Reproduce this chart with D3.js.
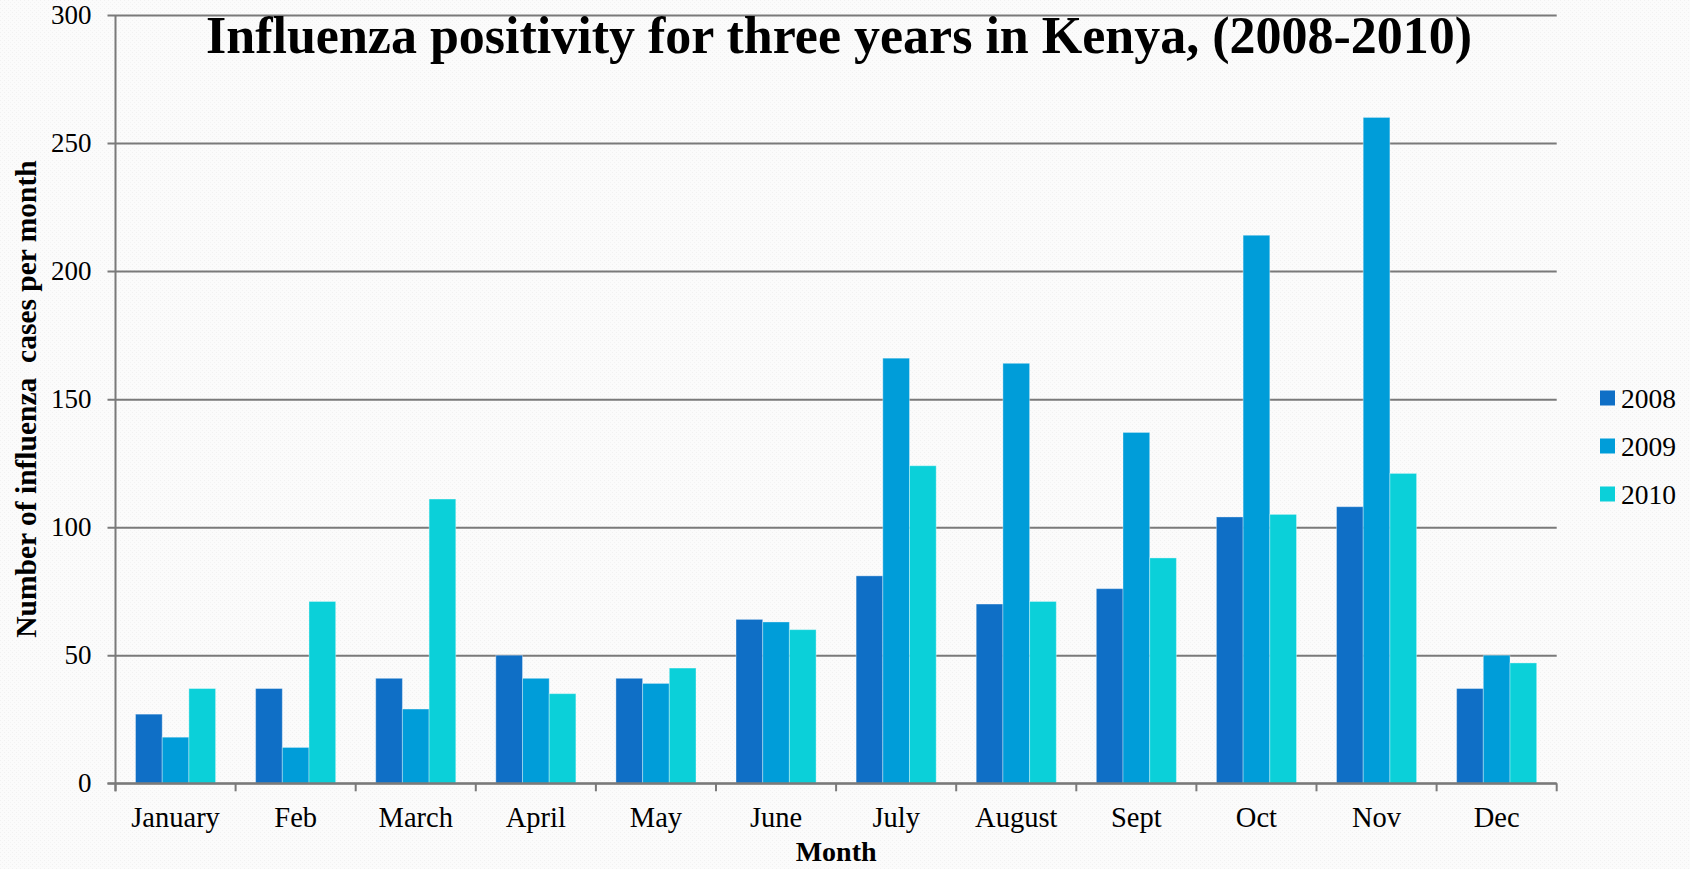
<!DOCTYPE html>
<html>
<head>
<meta charset="utf-8">
<script src="https://cdn.jsdelivr.net/npm/d3@7"></script>
<style>
  html, body { margin: 0; padding: 0; background: #fafafa; }
  svg { display: block; }
</style>
</head>
<body>
<svg id="chart" width="1690" height="869"></svg>
<script>
const months = ["January","Feb","March","April","May","June","July","August","Sept","Oct","Nov","Dec"];
const seriesNames = ["2008","2009","2010"];
const values2008 = [27, 37, 41, 50, 41, 64, 81, 70, 76, 104, 108, 37];
const values2009 = [18, 14, 29, 41, 39, 63, 166, 164, 137, 214, 260, 50];
const values2010 = [37, 71, 111, 35, 45, 60, 124, 71, 88, 105, 121, 47];
const yTicks = [0, 50, 100, 150, 200, 250, 300];
const colors = ["#0F6FC6", "#009DD9", "#0BD0D9"];
const titleText = "Influenza positivity for three years in Kenya, (2008-2010)";
const yLabel = "Number of influenza  cases per month";
const xLabel = "Month";

(function () {
const seriesValues = [values2008, values2009, values2010];
const data = months.map((m, i) => ({
  month: m,
  vals: seriesNames.map((s, j) => ({ key: s, value: seriesValues[j][i] }))
}));

const svg = d3.select("#chart");
const W = 1690, H = 869;
const pLeft = 115.5, pRight = 1556.7, pTop = 15, pBottom = 783.3;
const FONT = "'Liberation Serif', 'Times New Roman', serif";

// textured background
const defs = svg.append("defs");
const pat = defs.append("pattern").attr("id", "tex").attr("width", 4).attr("height", 4)
  .attr("patternUnits", "userSpaceOnUse");
pat.append("rect").attr("width", 4).attr("height", 4).attr("fill", "#fbfbfb");
pat.append("rect").attr("x", 0).attr("y", 0).attr("width", 1).attr("height", 1).attr("fill", "#f1f1f1");
pat.append("rect").attr("x", 2).attr("y", 2).attr("width", 1).attr("height", 1).attr("fill", "#f3f3f3");
svg.append("rect").attr("width", W).attr("height", H).attr("fill", "url(#tex)");

const x0 = d3.scaleBand().domain(months).range([pLeft, pRight]).paddingInner(1/3).paddingOuter(1/6);
const x1 = d3.scaleBand().domain(seriesNames).range([0, x0.bandwidth()]).padding(0);
const y = d3.scaleLinear().domain([0, 300]).range([pBottom, pTop]);
const color = d3.scaleOrdinal().domain(seriesNames).range(colors);

// gridlines + y ticks + labels
const plotW = pRight - pLeft;
const yAxis = d3.axisLeft(y).tickValues(yTicks).tickSizeInner(plotW + 8).tickSizeOuter(0).tickPadding(16);
const gy = svg.append("g").attr("transform", `translate(${pRight},0)`).call(yAxis);
gy.select(".domain").remove();
gy.selectAll(".tick line").attr("stroke", "#7a7a7a").attr("stroke-width", 2);
gy.selectAll(".tick text").attr("font-family", FONT).attr("font-size", 27).attr("fill", "#000");

// bars
const groups = svg.append("g").selectAll("g").data(data).join("g")
  .attr("transform", d => `translate(${x0(d.month)},0)`);
groups.selectAll("rect").data(d => d.vals).join("rect")
  .attr("x", d => x1(d.key))
  .attr("y", d => y(d.value))
  .attr("width", x1.bandwidth())
  .attr("height", d => y(0) - y(d.value))
  .attr("fill", d => color(d.key))
  .attr("stroke", "rgba(255,255,255,0.35)")
  .attr("stroke-width", 1);

// x axis baseline and boundary ticks
const step = x0.step();
const boundaries = d3.range(months.length + 1).map(i => x0.range()[0] + i * step);
svg.append("line").attr("x1", pLeft - 8).attr("x2", pRight).attr("y1", y(0)).attr("y2", y(0))
  .attr("stroke", "#7a7a7a").attr("stroke-width", 2);
svg.append("g").selectAll("line").data(boundaries).join("line")
  .attr("x1", d => d).attr("x2", d => d).attr("y1", y(0)).attr("y2", y(0) + 8)
  .attr("stroke", "#7a7a7a").attr("stroke-width", 2);
// y axis line
svg.append("line").attr("x1", pLeft).attr("x2", pLeft).attr("y1", pTop).attr("y2", y(0) + 8)
  .attr("stroke", "#7a7a7a").attr("stroke-width", 2);

// x labels
const xAxis = d3.axisBottom(x0).tickSize(0).tickPadding(0);
const gx = svg.append("g").attr("transform", `translate(0,${y(0)})`).call(xAxis);
gx.select(".domain").remove();
gx.selectAll(".tick text").attr("font-family", FONT).attr("font-size", 28.5).attr("fill", "#000")
  .attr("dy", null).attr("y", 43.5);

// title
svg.append("text").attr("x", (pLeft + pRight) / 2 + 3).attr("y", 53)
  .attr("text-anchor", "middle").attr("font-family", FONT).attr("font-weight", "bold")
  .attr("font-size", 52).attr("fill", "#000").text(titleText);

// y label
svg.append("text").attr("transform", "translate(36,399) rotate(-90)")
  .attr("text-anchor", "middle").attr("font-family", FONT).attr("font-weight", "bold")
  .attr("font-size", 29.5).attr("fill", "#000").style("white-space", "pre").text(yLabel);

// x label
svg.append("text").attr("x", (pLeft + pRight) / 2).attr("y", 861)
  .attr("text-anchor", "middle").attr("font-family", FONT).attr("font-weight", "bold")
  .attr("font-size", 28).attr("fill", "#000").text(xLabel);

// legend
const legend = svg.append("g").selectAll("g").data(seriesNames).join("g")
  .attr("transform", (d, i) => `translate(1600,${398 + i * 48})`);
legend.append("rect").attr("x", 0).attr("y", -7.5).attr("width", 15).attr("height", 15)
  .attr("fill", d => color(d));
legend.append("text").attr("x", 21).attr("y", 0).attr("dy", "0.35em")
  .attr("font-family", FONT).attr("font-size", 27.5).attr("fill", "#000").text(d => d);
})();
</script>
</body>
</html>
